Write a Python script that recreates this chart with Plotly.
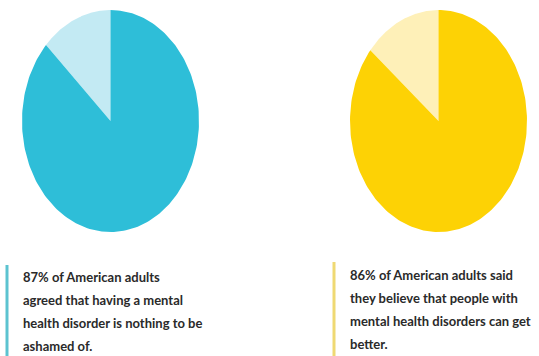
import numpy as np
import plotly.graph_objects as go

# data
labels = ["Agree", "Other"]
left_values = [87, 13]
right_values = [86, 14]
left_colors = ["#2EBED8", "#C3EAF3"]
right_colors = ["#FDD205", "#FEF0B8"]
left_text = ["87% of American adults", "agreed that having a mental",
             "health disorder is nothing to be", "ashamed of."]
right_text = ["86% of American adults said", "they believe that people with",
              "mental health disorders can get", "better."]

W, H = 539, 356
fig = go.Figure()


def pie_traces(values, colors, xa, ya):
    total = sum(values)
    # light slice starts at 12 o'clock going counter-clockwise, main slice fills the rest
    start = np.pi / 2
    order = [1, 0]
    for idx in order:
        sweep = 2 * np.pi * values[idx] / total
        t = np.linspace(start, start + sweep, 200)
        xs = np.concatenate([[0], np.cos(t), [0]])
        ys = np.concatenate([[0], np.sin(t), [0]])
        fig.add_trace(go.Scatter(x=xs, y=ys, fill="toself", mode="lines",
                                 line=dict(width=0, color=colors[idx]),
                                 fillcolor=colors[idx], hoverinfo="skip",
                                 showlegend=False, xaxis=xa, yaxis=ya))
        start += sweep


pie_traces(left_values, left_colors, "x", "y")
pie_traces(right_values, right_colors, "x2", "y2")

ax = dict(range=[-1, 1], visible=False, fixedrange=True)
fig.update_layout(
    width=W, height=H, margin=dict(l=0, r=0, t=0, b=0),
    paper_bgcolor="white", plot_bgcolor="white",
    xaxis=dict(domain=[22 / W, 199 / W], **ax),
    yaxis=dict(domain=[1 - 232 / H, 1 - 10 / H], **ax),
    xaxis2=dict(domain=[350 / W, 527 / W], anchor="y2", **ax),
    yaxis2=dict(domain=[1 - 232 / H, 1 - 10 / H], anchor="x2", **ax),
)

font = dict(family="Lato", size=13, color="#2a2a2a")
line_y = [277, 300, 323, 346]
for i, s in enumerate(left_text):
    fig.add_annotation(x=21 / W, y=1 - line_y[i] / H, xref="paper", yref="paper",
                       text="<b>" + s + "</b>", showarrow=False, xanchor="left",
                       yanchor="middle", font=font)
for i, s in enumerate(right_text):
    fig.add_annotation(x=348 / W, y=1 - (line_y[i] - 2) / H, xref="paper", yref="paper",
                       text="<b>" + s + "</b>", showarrow=False, xanchor="left",
                       yanchor="middle", font=font)

fig.add_shape(type="line", xref="paper", yref="paper", x0=7 / W, x1=7 / W,
              y0=0, y1=1 - 265 / H, line=dict(color="#5CC3D0", width=3))
fig.add_shape(type="line", xref="paper", yref="paper", x0=334 / W, x1=334 / W,
              y0=0, y1=1 - 262 / H, line=dict(color="#EFD973", width=3))

fig.write_html("out.html")
